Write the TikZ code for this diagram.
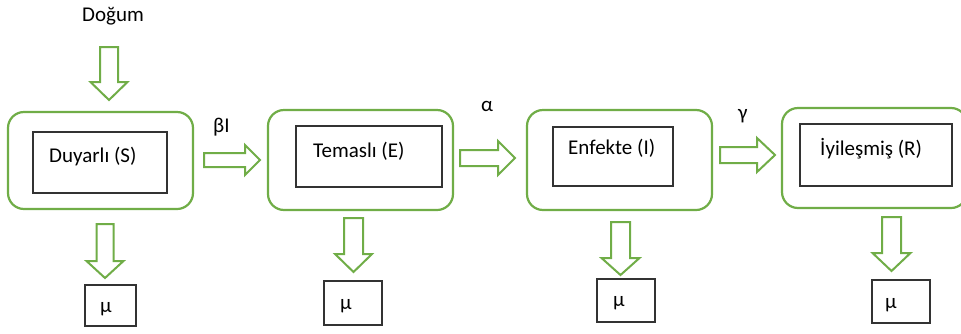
\documentclass[tikz,border=0pt]{standalone}
\usepackage{fontspec}
\setmainfont{Carlito}
\definecolor{lgreen}{HTML}{70AD47}
\newcommand\rblock[6]{% tail x, head x, tip x, centre y, shaft half, head half
  \draw[blockarrow] (#1,{#4-#5}) -- (#2,{#4-#5}) -- (#2,{#4-#6}) -- (#3,#4)
    -- (#2,{#4+#6}) -- (#2,{#4+#5}) -- (#1,{#4+#5}) -- cycle;}
\newcommand\dblock[6]{% centre x, tail y, head y, tip y, shaft half, head half
  \draw[blockarrow] ({#1-#5},#2) -- ({#1+#5},#2) -- ({#1+#5},#3) -- ({#1+#6},#3)
    -- (#1,#4) -- ({#1-#6},#3) -- ({#1-#5},#3) -- cycle;}
\begin{document}
\begin{tikzpicture}[x=1pt,y=-1pt,
  txt/.style={font=\fontsize{21pt}{25pt}\selectfont, inner sep=0pt, anchor=base west},
  greenbox/.style={draw=lgreen, line width=2.2pt, rounded corners=16pt, fill=white},
  innerbox/.style={draw=black!80, line width=1.2pt, fill=white},
  mubox/.style={draw=black!80, line width=1.2pt, fill=white},
  blockarrow/.style={draw=lgreen, line width=2pt, fill=white, line join=miter}]
\useasboundingbox (0,0) rectangle (961,333);
\clip (0,0) rectangle (961,333);

% compartments
\node[greenbox, minimum width=185pt, minimum height=97pt] (S) at (100.5,160.5) {};
\node[greenbox, minimum width=185pt, minimum height=100pt] (E) at (360.5,160) {};
\node[greenbox, minimum width=185pt, minimum height=100pt] (I) at (619.5,160) {};
\node[greenbox, minimum width=185pt, minimum height=100pt] (R) at (874.5,158) {};

\node[innerbox, minimum width=134pt, minimum height=61pt] (Sin) at (100,162.5) {};
\node[innerbox, minimum width=146pt, minimum height=61pt] (Ein) at (369,156.5) {};
\node[innerbox, minimum width=120pt, minimum height=59pt] (Iin) at (613,156.5) {};
\node[innerbox, minimum width=152pt, minimum height=62pt] (Rin) at (876,155) {};

\node[txt] (Slab) at (49,162) {Duyarlı (S)};
\node[txt] (Elab) at (313,157) {Temaslı (E)};
\node[txt] (Ilab) at (568,154) {Enfekte (I)};
\node[txt] (Rlab) at (820,155) {İyileşmiş (R)};

% birth inflow
\node[txt] (birth) at (82,21) {Doğum};
\dblock{109}{47}{82}{100}{9}{18.5}

% transitions between compartments
\rblock{204}{245}{260}{160}{7}{15}
\rblock{460}{498}{515}{158}{8}{17}
\rblock{720}{757}{775}{155}{8}{17}
\node[txt] (beta) at (213,132) {βI};
\node[txt] (alpha) at (481,111) {α};
\node[txt] (gamma) at (738,119) {γ};

% deaths
\dblock{105}{224}{261}{278}{8.5}{18.5}
\dblock{353.5}{218}{254}{272}{9.5}{18.5}
\dblock{620.5}{222}{258}{275}{9.5}{19}
\dblock{891.5}{217}{253}{271}{9.5}{19}

\node[mubox, minimum width=51pt, minimum height=41pt] (mS) at (110.5,305.5) {};
\node[mubox, minimum width=58pt, minimum height=44pt] (mE) at (353,303) {};
\node[mubox, minimum width=58pt, minimum height=43pt] (mI) at (626,300.5) {};
\node[mubox, minimum width=58pt, minimum height=43pt] (mR) at (901,301.5) {};
\node[txt] at (100,312) {μ};
\node[txt] at (340,309) {μ};
\node[txt] at (613,306) {μ};
\node[txt] at (885,308) {μ};
\end{tikzpicture}
\end{document}
